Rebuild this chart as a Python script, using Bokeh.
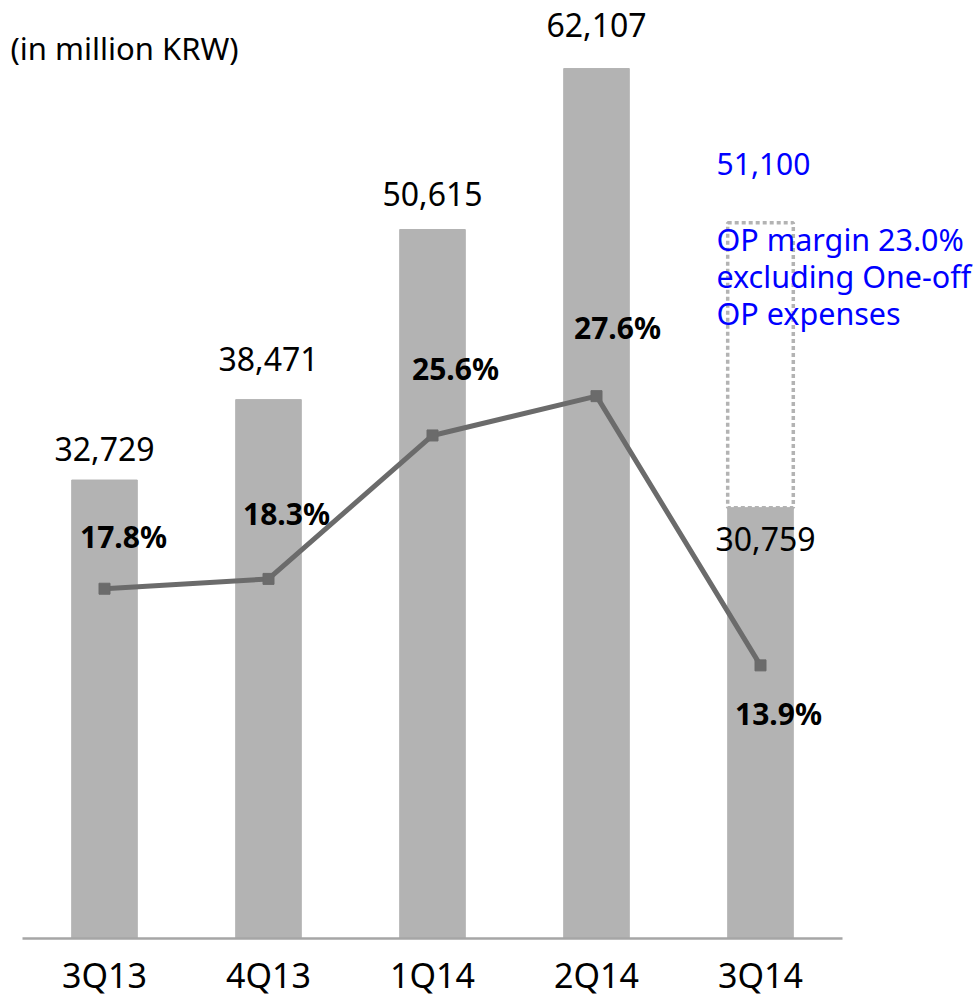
from bokeh.plotting import figure
from bokeh.models import Range1d, LinearAxis, FixedTicker, Label
from bokeh.core.properties import value
from bokeh.embed import file_html
from bokeh.resources import INLINE

# ---- data ----
quarters = ["3Q13", "4Q13", "1Q14", "2Q14", "3Q14"]
op_profit = [32729, 38471, 50615, 62107, 30759]          # million KRW
op_margin = [17.8, 18.3, 25.6, 27.6, 13.9]               # %
adj_profit_3q14 = 51100                                   # excl. one-off expenses
adj_note = "OP margin 23.0%\nexcluding One-off\nOP expenses"
unit_label = "(in million KRW)"

profit_labels = [f"{v:,}" for v in op_profit]
margin_labels = [f"{v:.1f}%" for v in op_margin]

# ---- layout / style ----
W, H = 979, 1001
ZERO_Y = 938                  # px from the top where the zero line sits
BOTTOM = H - ZERO_Y           # px below the zero line (inside the frame)
LEFT_PAD = 22
PX_PER_CAT = 164
BAR_W = 0.4
profit_per_px = 71.39
pct_per_px = 1 / 19.65
FONT = "Noto Sans"
BAR_COLOR = "#b3b3b3"
LINE_COLOR = "#6b6b6b"
BLUE = "#0000ff"

xs = list(range(len(quarters)))
x_start = -0.5 - LEFT_PAD / PX_PER_CAT
x_end = x_start + W / PX_PER_CAT

p = figure(width=W, height=H, output_backend="svg", toolbar_location=None,
           x_range=Range1d(x_start, x_end),
           y_range=Range1d(-BOTTOM * profit_per_px, ZERO_Y * profit_per_px),
           min_border_left=0, min_border_right=0, min_border_top=0,
           min_border_bottom=0, x_axis_type=None, y_axis_type=None)
p.extra_y_ranges = {"pct": Range1d(-BOTTOM * pct_per_px, ZERO_Y * pct_per_px)}
p.outline_line_color = None
p.background_fill_color = "white"
p.border_fill_color = "white"
p.grid.visible = False

# category axis, pinned to the zero line
xaxis = LinearAxis(ticker=FixedTicker(ticks=xs), fixed_location=0,
                   major_label_overrides={i: q for i, q in zip(xs, quarters)})
xaxis.axis_line_color = None
xaxis.major_tick_line_color = None
xaxis.minor_tick_line_color = None
xaxis.major_tick_out = 0
xaxis.major_label_standoff = 13
xaxis.major_label_text_font = FONT
xaxis.major_label_text_font_size = "34px"
xaxis.major_label_text_color = "#000000"
p.add_layout(xaxis, "below")

# bars
p.vbar(x=xs, top=op_profit, width=BAR_W, color=BAR_COLOR)

# dotted box for adjusted 3Q14 profit
p.vbar(x=[xs[-1]], bottom=[op_profit[-1]], top=[adj_profit_3q14], width=BAR_W,
       fill_color=None, line_color=BAR_COLOR, line_width=3.5, line_dash="4 3")

# baseline
p.segment(x0=[xs[0] - 0.5], x1=[xs[-1] + 0.5], y0=[0], y1=[0],
          line_color="#a6a6a6", line_width=2.5)

# margin line
p.line(xs, op_margin, y_range_name="pct", line_color=LINE_COLOR, line_width=5)
p.scatter(xs, op_margin, y_range_name="pct", marker="square", size=11,
          color=LINE_COLOR)

# value labels
value_dy = [-31, -41, -36, -44, 31]
p.text(x=xs, y=op_profit, text=profit_labels, y_offset=value_dy,
       x_offset=[0, 0, 0, 0, 5],
       text_align="center", text_baseline="middle",
       text_font=value(FONT), text_font_size="32px", text_color="#000000")

margin_dx = [19, 18, 23, 21, 18]
margin_dy = [-52, -65, -67, -69, 48]
p.text(x=xs, y=op_margin, text=margin_labels, y_range_name="pct",
       x_offset=margin_dx, y_offset=margin_dy,
       text_align="center", text_baseline="middle",
       text_font=value(FONT), text_font_size="30px", text_font_style="bold",
       text_color="#000000")

# adjusted profit annotation
p.text(x=[xs[-1]], y=[adj_profit_3q14], text=[f"{adj_profit_3q14:,}"],
       x_offset=3, y_offset=-59, text_align="center", text_baseline="middle",
       text_font=value(FONT), text_font_size="30px", text_color=BLUE)
p.text(x=[xs[-1]], y=[adj_profit_3q14], text=[adj_note],
       x_offset=-44, y_offset=-5, text_align="left", text_baseline="top",
       text_line_height=0.88,
       text_font=value(FONT), text_font_size="30.5px", text_color=BLUE)

# unit label
p.add_layout(Label(x=10, y=H - 47, x_units="screen", y_units="screen",
                   text=unit_label, text_align="left", text_baseline="middle",
                   text_font=FONT, text_font_size="31px", text_color="#000000"))

open("out.html", "w").write(file_html(p, INLINE))
